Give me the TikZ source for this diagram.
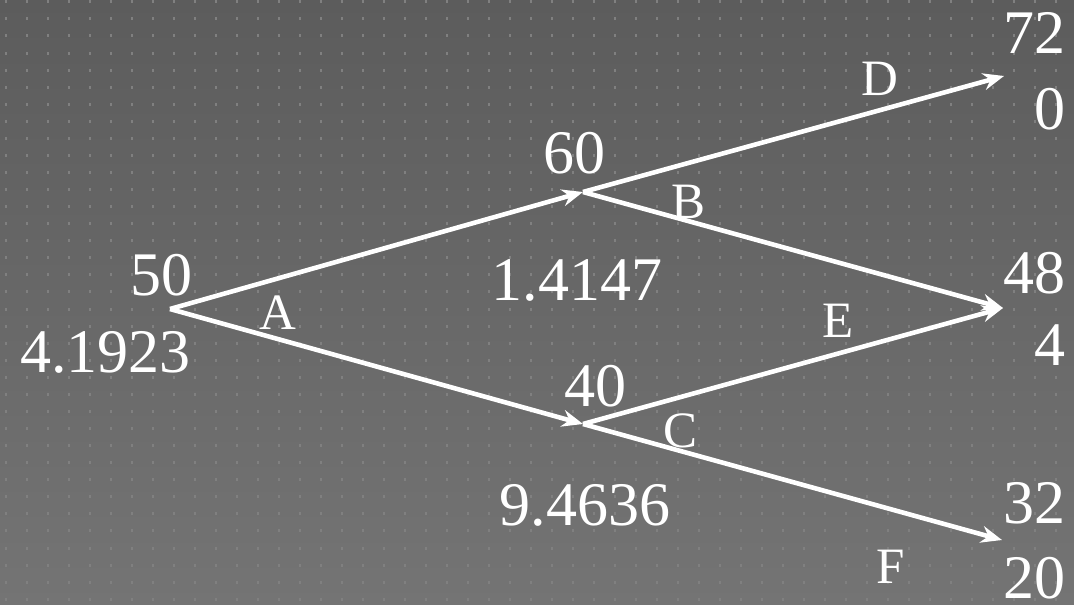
\documentclass[tikz,border=0pt]{standalone}
\usepackage{fontspec}
\setmainfont{Liberation Serif}
\usetikzlibrary{arrows.meta}
\definecolor{bgtop}{RGB}{92,92,92}
\definecolor{bgbot}{RGB}{116,116,116}
\definecolor{dotc}{RGB}{128,128,128}
\begin{document}
\begin{tikzpicture}[x=1pt,y=-1pt,
  edge/.style={white, line width=4.6pt, -{Stealth[length=21pt,width=17pt,inset=7pt]}},
  num/.style={text=white, font=\fontsize{62}{62}\selectfont, inner sep=0pt},
  lab/.style={text=white, font=\fontsize{51}{51}\selectfont, inner sep=0pt}]
\shade[top color=bgtop, bottom color=bgbot] (0,0) rectangle (1074,605);
\useasboundingbox (0,0) rectangle (1074,605);
\foreach \i in {0,...,50}
  \foreach \j in {0,...,35}
    \fill[dotc] ({5+21*\i},{0.3+17.07*\j}) rectangle ++(2,3);
% junctions
\coordinate (n50) at (170,309);
\coordinate (n60) at (583,192);
\coordinate (n40) at (583,424);
\coordinate (tU) at (1004,76);
\coordinate (tM) at (1003,308);
\coordinate (tL) at (1002,540);
% connectors
\draw[edge] (n50) -- (n60);
\draw[edge] (n50) -- (n40);
\draw[edge] (n60) -- (tU);
\draw[edge] (n60) -- (tM);
\draw[edge] (n40) -- (tM);
\draw[edge] (n40) -- (tL);
% numbers
\node[num, anchor=base east] (v72) at (1066,53) {72};
\node[num, anchor=base east] (v0) at (1066,129) {0};
\node[num, anchor=base east] (v48) at (1066,293) {48};
\node[num, anchor=base east] (v4) at (1066,365) {4};
\node[num, anchor=base east] (v32) at (1066,523) {32};
\node[num, anchor=base east] (v20) at (1066,598) {20};
\node[num, anchor=base east] (v50) at (193,295) {50};
\node[num, anchor=base east] (p50) at (191,372) {4.1923};
\node[num, anchor=base] (v60) at (574,173) {60};
\node[num, anchor=base] (p60) at (577,300) {1.4147};
\node[num, anchor=base] (v40) at (595,406) {40};
\node[num, anchor=base] (p40) at (585,525) {9.4636};
% letters
\node[lab, anchor=base] (lD) at (880,95) {D};
\node[lab, anchor=base] (lB) at (689,218) {B};
\node[lab, anchor=base] (lA) at (278,329) {A};
\node[lab, anchor=base] (lE) at (838,337) {E};
\node[lab, anchor=base] (lC) at (681,447) {C};
\node[lab, anchor=base] (lF) at (891,583) {F};
\end{tikzpicture}
\end{document}
